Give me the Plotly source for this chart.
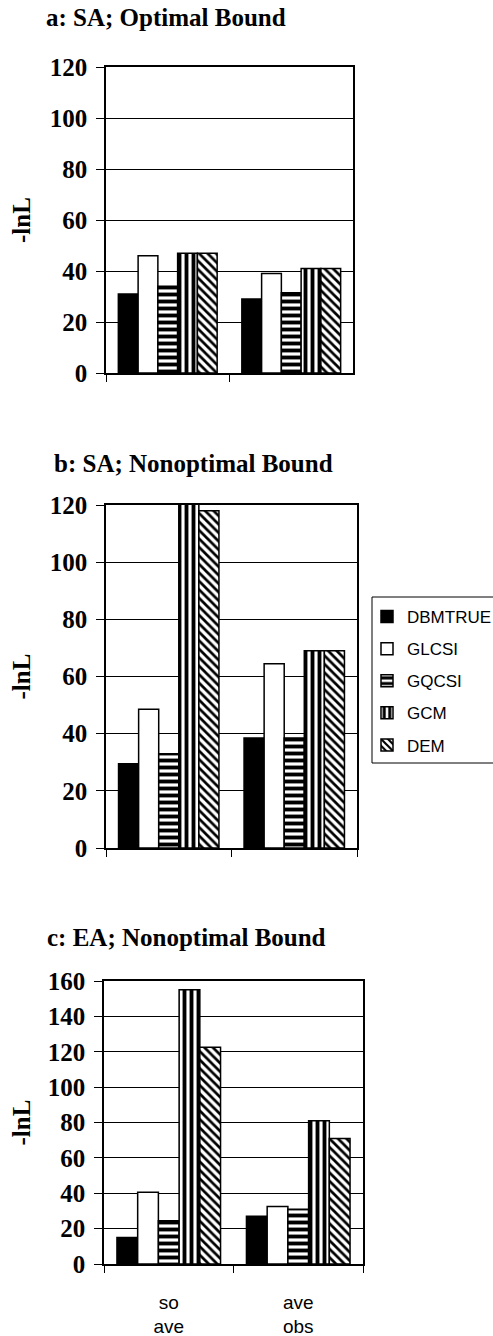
import plotly.graph_objects as go

W, H = 493, 1336

categories = ["so<br>ave", "ave<br>obs"]
models = ["DBMTRUE", "GLCSI", "GQCSI", "GCM", "DEM"]

panel_titles = ["a: SA; Optimal Bound", "b: SA; Nonoptimal Bound", "c: EA; Nonoptimal Bound"]

# -lnL values, [so ave, ave obs]
a_DBMTRUE = [31, 29]
a_GLCSI = [46, 39]
a_GQCSI = [34, 31.5]
a_GCM = [47, 41]
a_DEM = [47, 41]

b_DBMTRUE = [29.5, 38.5]
b_GLCSI = [48.5, 64.5]
b_GQCSI = [33, 38.5]
b_GCM = [121, 69]
b_DEM = [118, 69]

c_DBMTRUE = [15, 27]
c_GLCSI = [40.5, 32.5]
c_GQCSI = [24.5, 31]
c_GCM = [155, 81]
c_DEM = [122.5, 71]

y_ranges = [[0, 120], [0, 120], [0, 160]]

panels = [
    [a_DBMTRUE, a_GLCSI, a_GQCSI, a_GCM, a_DEM],
    [b_DBMTRUE, b_GLCSI, b_GQCSI, b_GCM, b_DEM],
    [c_DBMTRUE, c_GLCSI, c_GQCSI, c_GCM, c_DEM],
]

styles = {
    "DBMTRUE": dict(color="black"),
    "GLCSI": dict(color="white"),
    "GQCSI": dict(color="white", pattern=dict(shape="-", fgcolor="black", bgcolor="white", size=7, solidity=0.55, fillmode="replace")),
    "GCM": dict(color="white", pattern=dict(shape="|", fgcolor="black", bgcolor="white", size=7, solidity=0.55, fillmode="replace")),
    "DEM": dict(color="white", pattern=dict(shape="\\", fgcolor="black", bgcolor="white", size=6, solidity=0.45, fillmode="replace")),
}

# pixel boxes of the plot areas: (x0, x1, y0_top, y1_bottom)
boxes = [(106, 353, 67, 373), (106, 357, 505, 848), (104, 363, 981, 1264)]
title_pos = [(44, 18), (52, 463), (45, 937)]

serif_bold = dict(family="Liberation Serif", size=25, color="black", weight="bold")

fig = go.Figure()
layout = dict(
    width=W, height=H, margin=dict(l=0, r=0, t=0, b=0, autoexpand=False),
    paper_bgcolor="white", plot_bgcolor="white",
    barmode="group", bargap=0.2, bargroupgap=0,
    showlegend=True,
    legend=dict(x=367 / W, y=1 - 599 / H, xanchor="left", yanchor="top",
                borderwidth=0, bgcolor="rgba(0,0,0,0)",
                font=dict(family="Liberation Sans", size=17, color="black"),
                tracegroupgap=7, itemwidth=30),
    annotations=[],
    shapes=[dict(type="rect", xref="paper", yref="paper",
                 x0=372 / W, x1=1.02, y0=1 - 763 / H, y1=1 - 597 / H,
                 line=dict(color="black", width=1), layer="below")],
)

for i, (vals, (x0, x1, yt, yb)) in enumerate(zip(panels, boxes)):
    xa = "x" if i == 0 else f"x{i+1}"
    ya = "y" if i == 0 else f"y{i+1}"
    for m, v in zip(models, vals):
        fig.add_trace(go.Bar(
            x=categories, y=v, name=m, xaxis=xa, yaxis=ya,
            marker=dict(line=dict(color="black", width=1.5), **styles[m]),
            showlegend=(i == 0), legendgroup=m,
        ))
    xkey = "xaxis" if i == 0 else f"xaxis{i+1}"
    ykey = "yaxis" if i == 0 else f"yaxis{i+1}"
    layout[xkey] = dict(
        domain=[x0 / W, x1 / W], anchor=ya, type="category", automargin=False,
        showline=True, linecolor="black", linewidth=1.5, mirror=True,
        ticks="outside", tickson="boundaries", ticklen=7, tickcolor="black",
        showgrid=False, showticklabels=(i == 2),
        tickfont=dict(family="Liberation Sans", size=19, color="black"),
        ticklabelstandoff=20,
    )
    layout[ykey] = dict(
        domain=[1 - yb / H, 1 - yt / H], anchor=xa, automargin=False,
        range=y_ranges[i], dtick=20,
        showline=True, linecolor="black", linewidth=1.5, mirror=True,
        ticks="outside", ticklen=8, tickcolor="black",
        showgrid=True, gridcolor="black", gridwidth=1,
        zeroline=False, tickfont=serif_bold, ticklabelstandoff=4,
    )
    tx, ty = title_pos[i]
    layout["annotations"].append(dict(
        text=panel_titles[i], x=tx / W, y=1 - ty / H, xref="paper", yref="paper",
        xanchor="left", yanchor="middle", showarrow=False,
        font=dict(family="Liberation Serif", size=25, color="black", weight="bold"),
    ))
    layout["annotations"].append(dict(
        text="-lnL", x=21 / W, y=1 - ((yt + yb) / 2) / H, xref="paper", yref="paper",
        xanchor="center", yanchor="middle", showarrow=False, textangle=-90,
        font=dict(family="Liberation Serif", size=25, color="black", weight="bold"),
    ))

fig.update_layout(**layout)
fig.write_html("out.html")
